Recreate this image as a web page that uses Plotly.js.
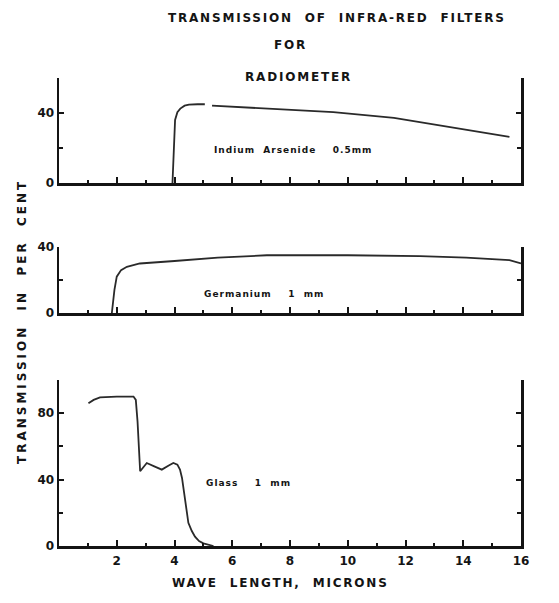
<!DOCTYPE html>
<html>
<head>
<meta charset="utf-8">
<script src="https://cdn.plot.ly/plotly-3.0.1.min.js"></script>
<style>html,body{margin:0;padding:0;background:#fff;}</style>
</head>
<body>
<div id="chart" style="width:559px;height:603px;"></div>
<script>
// Indium Arsenide 0.5 mm
const inasX = [3.93, 3.97, 4.02, 4.1, 4.2, 4.35, 4.5, 4.8, 5.05, null, 5.3, 7.0, 9.5, 11.6, 13.5, 15.6];
const inasY = [0, 20, 36, 40.5, 42.5, 44.2, 44.8, 45, 45, null, 44.2, 42.6, 40.5, 37.2, 32, 26.3];
// Germanium 1 mm
const geX = [1.83, 1.92, 2.0, 2.15, 2.35, 2.8, 4.0, 5.5, 7.2, 10, 12.5, 14.1, 15.6, 16];
const geY = [0, 14, 22, 26, 28, 30, 31.5, 33.5, 35, 35, 34.5, 33.5, 32, 30];
// Glass 1 mm
const glX = [1.02, 1.2, 1.42, 2.0, 2.58, 2.66, 2.72, 2.76, 2.81, 2.9, 3.04, 3.3, 3.56, 3.8, 3.96, 4.1, 4.19, 4.26, 4.32, 4.37, 4.42, 4.48, 4.6, 4.71, 4.85, 5.0, 5.35];
const glY = [86, 88, 89.5, 90, 90, 88, 75, 60, 45, 47, 50, 48, 46, 48.5, 50, 49, 46, 41, 33, 26, 19, 14, 9, 5.6, 3, 1.6, 0];

const xTickVals = [2, 4, 6, 8, 10, 12, 14, 16];
const xTickText = ['2', '4', '6', '8', '10', '12', '14', '16'];
const labels = ['Indium Arsenide&nbsp;&nbsp;&nbsp;0.5mm', 'Germanium&nbsp;&nbsp;&nbsp;&nbsp;1 mm', 'Glass&nbsp;&nbsp;&nbsp;1 mm'];

const ink = '#141414';
const curve = '#2a2a2a';
const fam = 'DejaVu Sans, Verdana, sans-serif';

const lineStyle = {color: curve, width: 1.8};
const traces = [
  {x: inasX, y: inasY, xaxis: 'x', yaxis: 'y', mode: 'lines', line: lineStyle, connectgaps: false, hoverinfo: 'skip'},
  {x: geX, y: geY, xaxis: 'x2', yaxis: 'y2', mode: 'lines', line: lineStyle, hoverinfo: 'skip'},
  {x: glX, y: glY, xaxis: 'x3', yaxis: 'y3', mode: 'lines', line: lineStyle, hoverinfo: 'skip'}
];

function xax(anchor, showLabels) {
  return {
    anchor: anchor, domain: [0, 1], range: [0, 16], showgrid: false, zeroline: false,
    showline: true, linecolor: ink, linewidth: 2.5,
    ticks: 'inside', ticklen: 6, tickwidth: 2, tickcolor: ink,
    tickmode: 'array', tickvals: xTickVals, ticktext: xTickText,
    showticklabels: showLabels, ticklabelstandoff: 2,
    tickfont: {family: fam, size: 12, color: ink, weight: 'bold'},
    minor: {dtick: 1, tick0: 0, ticks: 'inside', ticklen: 3, tickwidth: 2, tickcolor: ink, showgrid: false}
  };
}
function yax(anchor, domain, range, tvals, minorD) {
  return {
    anchor: anchor, domain: domain, range: range, showgrid: false, zeroline: false,
    showline: true, linecolor: ink, linewidth: 2.5, mirror: 'ticks',
    ticks: 'inside', ticklen: 5, tickwidth: 2, tickcolor: ink,
    tickmode: 'array', tickvals: tvals, ticktext: tvals.map(String),
    tickfont: {family: fam, size: 12, color: ink, weight: 'bold'},
    minor: {dtick: minorD, ticks: 'inside', ticklen: 4, tickwidth: 2, tickcolor: ink, showgrid: false}
  };
}

const W = 559, H = 603, L = 59, R = 38;
const px = v => (v - L) / (W - L - R);
const py = v => 1 - v / H;
const sp = (s, ls) => '<span style="letter-spacing:' + ls + 'px">' + s.split(' ').join('&nbsp;&nbsp;') + '</span>';

const annFont = {family: fam, size: 9, color: ink, weight: 'bold'};
const bigFont = {family: fam, size: 12, color: ink, weight: 'bold'};

function paperNote(x, y, text, extra) {
  return Object.assign({xref: 'paper', yref: 'paper', x: px(x), y: py(y), text: text,
    showarrow: false, xanchor: 'center', yanchor: 'middle', font: bigFont}, extra || {});
}

const layout = {
  width: W, height: H,
  margin: {l: L, r: R, t: 0, b: 0},
  paper_bgcolor: '#fff', plot_bgcolor: '#fff',
  showlegend: false,
  xaxis: xax('y', false),
  yaxis: yax('x', [py(183), py(78)], [0, 60], [0, 40], 20),
  xaxis2: xax('y2', false),
  yaxis2: yax('x2', [py(313), py(247)], [0, 40], [0, 40], 20),
  xaxis3: xax('y3', true),
  yaxis3: yax('x3', [py(546), py(380)], [0, 100], [0, 40, 80], 20),
  annotations: [
    paperNote(337, 18, sp('TRANSMISSION OF INFRA-RED FILTERS', 1.8)),
    paperNote(290, 45, sp('FOR', 1.8)),
    paperNote(298, 77, sp('RADIOMETER', 1.8)),
    paperNote(22, 322, sp('TRANSMISSION IN PER CENT', 3), {textangle: -90}),
    paperNote(280, 583, sp('WAVE LENGTH, MICRONS', 1.8)),
    {xref: 'x', yref: 'y', x: 8.1, y: 19, text: sp('Indium Arsenide  0.5mm', 1), showarrow: false, font: annFont},
    {xref: 'x2', yref: 'y2', x: 7.1, y: 11.5, text: sp('Germanium  1 mm', 1), showarrow: false, font: annFont},
    {xref: 'x3', yref: 'y3', x: 6.56, y: 38, text: sp('Glass  1 mm', 1), showarrow: false, font: annFont}
  ]
};

Plotly.newPlot('chart', traces, layout, {displayModeBar: false, staticPlot: true});
</script>
</body>
</html>
